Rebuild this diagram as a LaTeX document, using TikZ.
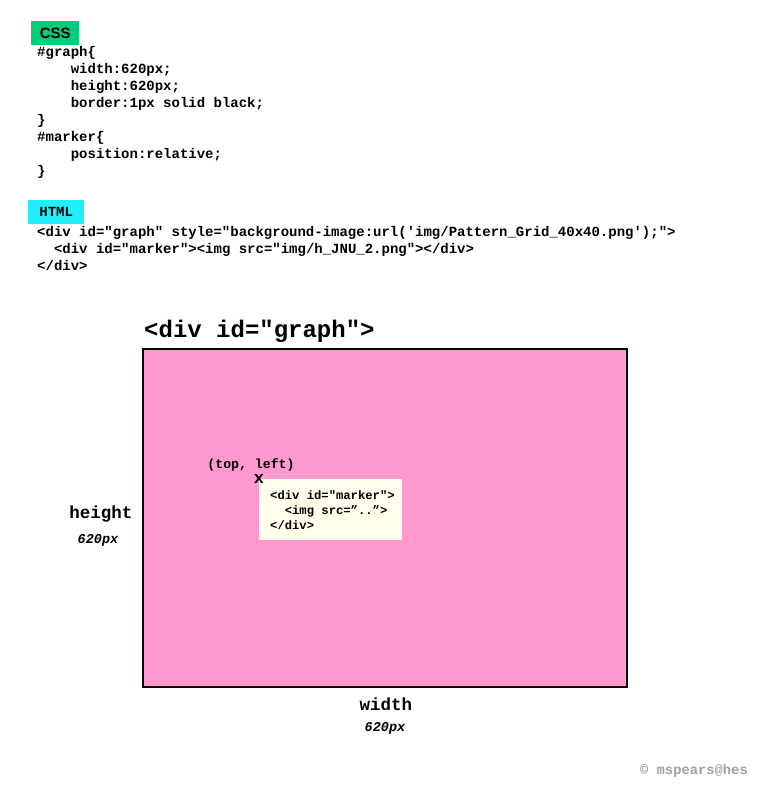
\documentclass[tikz,border=0pt]{standalone}
\usepackage{fontspec}
\usepackage{tikz}
\usetikzlibrary{positioning}

\newfontfamily\codefont{Liberation Mono}
\newfontfamily\labelfont{Liberation Sans}

\definecolor{cssgreen}{RGB}{0,204,122}
\definecolor{htmlcyan}{RGB}{34,238,250}
\definecolor{graphpink}{RGB}{255,153,208}
\definecolor{markerivory}{RGB}{255,255,236}
\definecolor{signgray}{RGB}{160,160,160}

\tikzset{
  code/.style={font=\codefont\bfseries\fontsize{14}{17}\selectfont, align=left, anchor=north west, inner sep=0pt},
  tag/.style={inner sep=0pt, minimum height=24pt},
  dimlabel/.style={font=\codefont\bfseries\fontsize{17.5}{20}\selectfont, inner sep=0pt},
  dimvalue/.style={font=\codefont\bfseries\itshape\fontsize{13.5}{16}\selectfont, inner sep=0pt}
}

\begin{document}
\begin{tikzpicture}[x=1pt, y=-1pt]
        \useasboundingbox (0, 0) rectangle (762, 788);
        % CSS part
        \node[tag, fill=cssgreen, minimum width=48pt, anchor=north west, font=\labelfont\bfseries\fontsize{15}{18}\selectfont] (csstag) at (31, 21) {CSS\hspace{3pt}};
        \node[code] (css) at (37, 46) {\#graph\{\\
            \hphantom{xxxx}width:620px;\\
            \hphantom{xxxx}height:620px;\\
            \hphantom{xxxx}border:1px solid black;\\
            \}\\
            \#marker\{\\
            \hphantom{xxxx}position:relative;\\
            \}};
        % HTML part
        \node[tag, fill=htmlcyan, minimum width=56pt, anchor=north west, font=\codefont\bfseries\fontsize{14}{17}\selectfont] (htmltag) at (28, 200) {HTML};
        \node[code] (html) at (37, 226) {<div id="graph" style="background-image:url('img/Pattern\_Grid\_40x40.png');">\\
            \hphantom{xx}<div id="marker"><img src="img/h\_JNU\_2.png"></div>\\
            </div>};
        % the graph div
        \node[draw=black, line width=2pt, fill=graphpink, minimum width=484pt, minimum height=338pt, inner sep=0pt] (graph) at (385, 518) {};
        \node[font=\codefont\bfseries\fontsize{24}{28}\selectfont, anchor=mid west, inner sep=0pt] (graphtitle) at (144, 335) {<div id="graph">};
        \node[fill=markerivory, anchor=north west, minimum width=143pt, minimum height=61pt, inner sep=0pt] (marker) at (259, 479) {};
        \node[font=\codefont\bfseries\fontsize{12.2}{15}\selectfont, align=left, anchor=west, inner sep=0pt] (markercode) at ([xshift=11pt]marker.west) {<div id="marker">\\
            \hphantom{xx}<img src=”..”>\\
            </div>};
        \node[font=\codefont\bfseries\fontsize{17}{20}\selectfont, inner sep=0pt] (corner) at (marker.north west) {x};
        \node[font=\codefont\bfseries\fontsize{13.2}{16}\selectfont, inner sep=0pt] (topleft) at (251, 465) {(top, left)};
        % sizes
        \node[dimlabel] (height) at (101, 514) {height};
        \node[dimvalue] (heightval) at (98, 540) {620px};
        \node[dimlabel] (width) at (386, 704) {width};
        \node[dimvalue] (widthval) at (385, 728) {620px};
        \node[font=\codefont\bfseries\fontsize{13.8}{16}\selectfont, text=signgray, anchor=mid east, inner sep=0pt] (sign) at (748, 772) {© mspears@hes};
    \end{tikzpicture}
\end{document}
